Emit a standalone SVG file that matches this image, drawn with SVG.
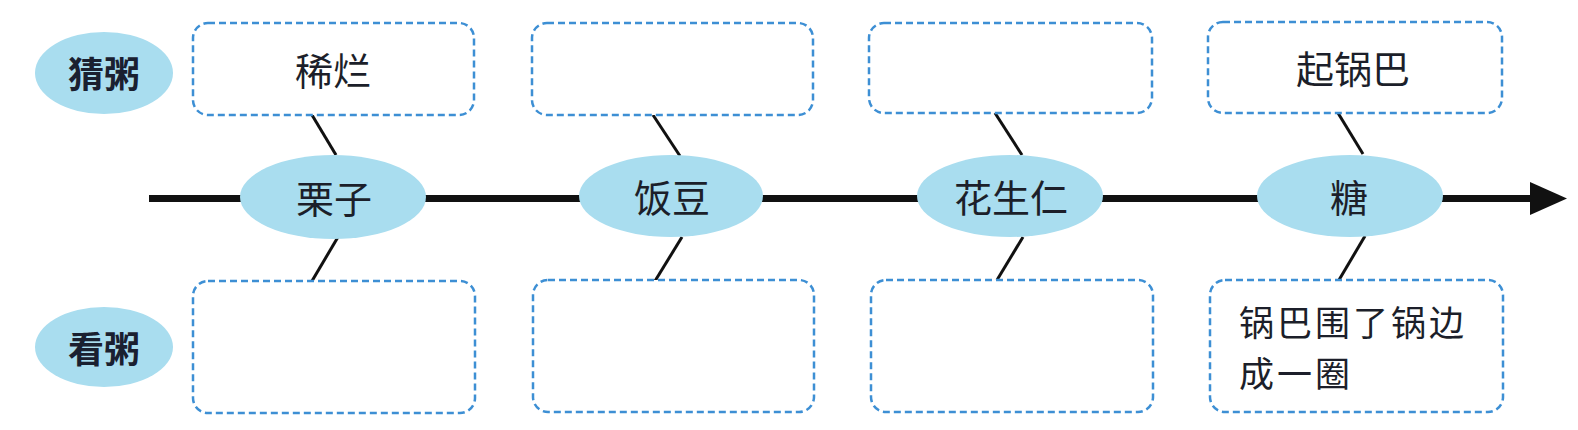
<svg xmlns="http://www.w3.org/2000/svg" width="1578" height="430" viewBox="0 0 1578 430">
<style>
.box{fill:#ffffff;stroke:#3d8fd4;stroke-width:2.5;stroke-dasharray:7 4}
.oval{fill:#a9ddef}
.lbl{font-family:"Noto Sans CJK SC","Noto Sans",sans-serif;font-size:38px;fill:#1c1f2a;text-anchor:middle;dominant-baseline:central}
.hdr{font-family:"Noto Sans CJK SC","Noto Sans",sans-serif;font-size:36px;font-weight:bold;fill:#1a2030;text-anchor:middle;dominant-baseline:central}
.txt{font-family:"Noto Sans CJK SC","Noto Sans",sans-serif;font-size:35px;letter-spacing:3px;fill:#1c1f2a}
.link{stroke:#111;stroke-width:3;fill:none}
</style>
<rect width="1578" height="430" fill="#ffffff"/>
<g id="connectors">
<line x1="149" y1="198.5" x2="1535" y2="198.5" stroke="#111" stroke-width="7"/>
<polygon points="1530,182 1567,198.5 1530,215" fill="#111"/>
<line class="link" x1="312" y1="115" x2="336" y2="155"/>
<line class="link" x1="338" y1="237" x2="312" y2="281"/>
<line class="link" x1="653" y1="115" x2="680" y2="156"/>
<line class="link" x1="682" y1="237" x2="655" y2="281"/>
<line class="link" x1="995" y1="113" x2="1022" y2="155"/>
<line class="link" x1="1023" y1="237" x2="997" y2="280"/>
<line class="link" x1="1338" y1="113" x2="1363" y2="154"/>
<line class="link" x1="1365" y1="236" x2="1339" y2="280"/>
</g>
<g id="hdr-guess"><ellipse class="oval" cx="104" cy="73" rx="69" ry="41"/><text class="hdr" x="104" y="72">猜粥</text></g>
<g id="hdr-look"><ellipse class="oval" cx="104" cy="347" rx="69" ry="40"/><text class="hdr" x="104" y="347">看粥</text></g>
<g id="top1"><rect class="box" x="193" y="23" width="281" height="92" rx="15"/><text class="lbl" x="333" y="68">稀烂</text></g>
<g id="top2"><rect class="box" x="532" y="23" width="281" height="92" rx="15"/></g>
<g id="top3"><rect class="box" x="869" y="23" width="283" height="90" rx="15"/></g>
<g id="top4"><rect class="box" x="1208" y="22" width="294" height="91" rx="15"/><text class="lbl" x="1353" y="66">起锅巴</text></g>
<g id="n1"><ellipse class="oval" cx="333" cy="197" rx="93" ry="42"/><text class="lbl" x="334" y="196">栗子</text></g>
<g id="n2"><ellipse class="oval" cx="671" cy="196" rx="92" ry="41"/><text class="lbl" x="672" y="195">饭豆</text></g>
<g id="n3"><ellipse class="oval" cx="1010" cy="196" rx="93" ry="41"/><text class="lbl" x="1011" y="195">花生仁</text></g>
<g id="n4"><ellipse class="oval" cx="1350" cy="196" rx="93" ry="41"/><text class="lbl" x="1349" y="195">糖</text></g>
<g id="bot1"><rect class="box" x="193" y="281" width="282" height="132" rx="15"/></g>
<g id="bot2"><rect class="box" x="533" y="280" width="281" height="132" rx="15"/></g>
<g id="bot3"><rect class="box" x="871" y="280" width="282" height="132" rx="15"/></g>
<g id="bot4"><rect class="box" x="1210" y="280" width="293" height="132" rx="15"/><text class="txt"><tspan x="1239" y="336">锅巴围了锅边</tspan><tspan x="1239" y="387">成一圈</tspan></text></g>
</svg>
